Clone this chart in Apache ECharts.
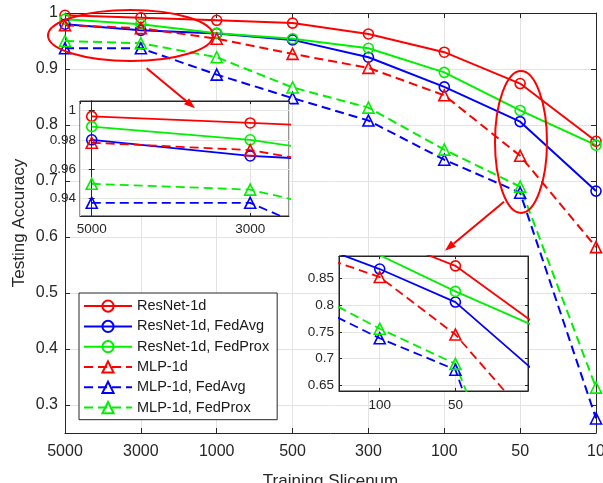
<!DOCTYPE html>
<html>
<head>
<meta charset="utf-8">
<script src="https://cdn.jsdelivr.net/npm/echarts@6/dist/echarts.min.js"></script>
<style>
  html, body { margin: 0; padding: 0; background: #fff; }
  #chart { width: 603px; height: 483px; }
</style>
</head>
<body>
<div id="chart"></div>
<script>
// x categories (training slice number)
const slicenum = ['5000', '3000', '1000', '500', '300', '100', '50', '10'];

// testing accuracy per model
const resnet     = [0.996, 0.9915, 0.987, 0.982, 0.9625, 0.930, 0.874, 0.771];
const resnetAvg  = [0.980, 0.969, 0.9635, 0.952, 0.921, 0.868, 0.806, 0.682];
const resnetProx = [0.989, 0.980, 0.964, 0.954, 0.937, 0.894, 0.826, 0.764];
const mlp        = [0.978, 0.973, 0.954, 0.927, 0.902, 0.853, 0.745, 0.582];
const mlpAvg     = [0.937, 0.937, 0.890, 0.848, 0.808, 0.738, 0.679, 0.276];
const mlpProx    = [0.950, 0.946, 0.921, 0.867, 0.831, 0.756, 0.690, 0.331];

const seriesNames = ['ResNet-1d', 'ResNet-1d, FedAvg', 'ResNet-1d, FedProx', 'MLP-1d', 'MLP-1d, FedAvg', 'MLP-1d, FedProx'];
const seriesData = [resnet, resnetAvg, resnetProx, mlp, mlpAvg, mlpProx];
const seriesColors = ['#ff0000', '#0000ff', '#00f000', '#ff0000', '#0000ff', '#00f000'];

const AX = '#262626';
const GRID = '#e3e3e3';
const FONT = 'Liberation Sans, Arial, Helvetica, sans-serif';

const fmtNum = v => String(+(+v).toFixed(3));

function makeSeries(idx, gridIdx) {
  const dashed = idx >= 3;
  const c = seriesColors[idx];
  const inset = gridIdx > 0;
  return {
    name: seriesNames[idx],
    type: 'line',
    xAxisIndex: gridIdx * 2,
    yAxisIndex: gridIdx * 2,
    z: inset ? 12 : 2,
    data: inset ? seriesData[idx].map((v, i) => [i, v]) : seriesData[idx],
    symbol: dashed ? 'triangle' : 'circle',
    symbolSize: dashed ? 11 : 10,
    showAllSymbol: true,
    clip: true,
    animation: false,
    lineStyle: { color: c, width: inset ? 1.8 : 2, type: dashed ? [9, 5] : 'solid' },
    itemStyle: { color: 'none', borderColor: c, borderWidth: 1.6 },
    emphasis: { disabled: true }
  };
}

function sideAxis(base, extra) {
  return Object.assign({
    axisLine: { show: true, lineStyle: { color: AX, width: 1 } },
    axisTick: { show: true, inside: true, length: 4, lineStyle: { color: AX } },
    axisLabel: { show: false },
    splitLine: { show: false }
  }, base, extra);
}

function arrow(x1, y1, x2, y2) {
  const ang = Math.atan2(y2 - y1, x2 - x1);
  const len = 11, half = 4;
  const bx = x2 - len * Math.cos(ang), by = y2 - len * Math.sin(ang);
  const px = -Math.sin(ang) * half, py = Math.cos(ang) * half;
  return [
    { type: 'line', z: 30, shape: { x1, y1, x2: bx, y2: by }, style: { stroke: '#ff0000', lineWidth: 2 } },
    { type: 'polygon', z: 30, shape: { points: [[x2, y2], [bx + px, by + py], [bx - px, by - py]] }, style: { fill: '#ff0000' } }
  ];
}

const series = [];
[0, 1, 2].forEach(g => seriesNames.forEach((n, i) => series.push(makeSeries(i, g))));

const labelStyle = { color: AX, fontFamily: FONT };

const option = {
  backgroundColor: '#fff',
  animation: false,
  textStyle: { fontFamily: FONT },
  grid: [
    { left: 65, top: 13, right: 7, bottom: 50, show: false, containLabel: false, outerBoundsMode: 'none' },
    { left: 80, top: 101, width: 209, height: 115, show: true, backgroundColor: '#fff', borderColor: AX, borderWidth: 1, z: 10, containLabel: false, outerBoundsMode: 'none' },
    { left: 339, top: 256, width: 189, height: 135, show: true, backgroundColor: '#fff', borderColor: AX, borderWidth: 1, z: 10, containLabel: false, outerBoundsMode: 'none' }
  ],
  xAxis: [
    {
      type: 'category', gridIndex: 0, data: slicenum, boundaryGap: false,
      name: 'Training Slicenum', nameLocation: 'middle', nameGap: 40, nameMoveOverlap: false,
      nameTextStyle: Object.assign({ fontSize: 17 }, labelStyle),
      axisLine: { lineStyle: { color: AX, width: 1 } },
      axisTick: { inside: true, length: 5, alignWithLabel: true, lineStyle: { color: AX } },
      axisLabel: Object.assign({ fontSize: 16, margin: 11, interval: 0 }, labelStyle),
      splitLine: { show: true, lineStyle: { color: GRID, width: 1 } }
    },
    sideAxis({ type: 'category', gridIndex: 0, data: slicenum, boundaryGap: false, position: 'top' },
      { axisTick: { show: true, inside: true, length: 5, lineStyle: { color: AX } } }),
    {
      type: 'value', gridIndex: 1, min: -0.074, max: 1.245, minInterval: 1, splitNumber: 2, z: 11,
      axisLine: { lineStyle: { color: AX, width: 1 } },
      axisTick: { inside: true, length: 3, lineStyle: { color: AX } },
      axisLabel: Object.assign({ fontSize: 13.5, margin: 6, showMinLabel: false, showMaxLabel: false,
        formatter: v => Number.isInteger(v) ? slicenum[v] : '' }, labelStyle),
      splitLine: { show: true, lineStyle: { color: GRID, width: 1 } }
    },
    sideAxis({ type: 'value', gridIndex: 1, min: -0.074, max: 1.245, minInterval: 1, splitNumber: 2, position: 'top', z: 11 },
      { axisTick: { show: true, inside: true, length: 3, lineStyle: { color: AX } } }),
    {
      type: 'value', gridIndex: 2, min: 4.462, max: 6.959, minInterval: 1, splitNumber: 2, z: 11,
      axisLine: { lineStyle: { color: AX, width: 1 } },
      axisTick: { inside: true, length: 3, lineStyle: { color: AX } },
      axisLabel: Object.assign({ fontSize: 13.5, margin: 7, showMinLabel: false, showMaxLabel: false,
        formatter: v => Number.isInteger(v) ? slicenum[v] : '' }, labelStyle),
      splitLine: { show: true, lineStyle: { color: GRID, width: 1 } }
    },
    sideAxis({ type: 'value', gridIndex: 2, min: 4.462, max: 6.959, minInterval: 1, splitNumber: 2, position: 'top', z: 11 },
      { axisTick: { show: true, inside: true, length: 3, lineStyle: { color: AX } } })
  ],
  yAxis: [
    {
      type: 'value', gridIndex: 0, min: 0.25, max: 1, splitNumber: 7,
      name: 'Testing Accuracy', nameLocation: 'middle', nameGap: 37, nameMoveOverlap: false,
      nameTextStyle: Object.assign({ fontSize: 17 }, labelStyle),
      axisLine: { show: true, lineStyle: { color: AX, width: 1 } },
      axisTick: { show: true, inside: true, length: 5, lineStyle: { color: AX } },
      axisLabel: Object.assign({ fontSize: 16, margin: 7, showMinLabel: false, formatter: fmtNum }, labelStyle),
      splitLine: { show: true, lineStyle: { color: GRID, width: 1 } }
    },
    sideAxis({ type: 'value', gridIndex: 0, min: 0.25, max: 1, splitNumber: 7, position: 'right' },
      { axisTick: { show: true, inside: true, length: 5, lineStyle: { color: AX } } }),
    {
      type: 'value', gridIndex: 1, min: 0.928, max: 1.0065, splitNumber: 4, z: 11,
      axisLine: { show: true, lineStyle: { color: AX, width: 1 } },
      axisTick: { show: true, inside: true, length: 3, lineStyle: { color: AX } },
      axisLabel: Object.assign({ fontSize: 13.5, margin: 4, showMinLabel: false, showMaxLabel: false, formatter: fmtNum }, labelStyle),
      splitLine: { show: true, lineStyle: { color: GRID, width: 1 } }
    },
    sideAxis({ type: 'value', gridIndex: 1, min: 0.928, max: 1.0065, splitNumber: 4, position: 'right', z: 11 },
      { axisTick: { show: true, inside: true, length: 3, lineStyle: { color: AX } } }),
    {
      type: 'value', gridIndex: 2, min: 0.639, max: 0.8925, splitNumber: 5, z: 11,
      axisLine: { show: true, lineStyle: { color: AX, width: 1 } },
      axisTick: { show: true, inside: true, length: 3, lineStyle: { color: AX } },
      axisLabel: Object.assign({ fontSize: 13.5, margin: 5, showMinLabel: false, showMaxLabel: false, formatter: fmtNum }, labelStyle),
      splitLine: { show: true, lineStyle: { color: GRID, width: 1 } }
    },
    sideAxis({ type: 'value', gridIndex: 2, min: 0.639, max: 0.8925, splitNumber: 5, position: 'right', z: 11 },
      { axisTick: { show: true, inside: true, length: 3, lineStyle: { color: AX } } })
  ],
  legend: {
    data: seriesNames,
    orient: 'vertical',
    left: 79, top: 293,
    z: 20,
    backgroundColor: '#fff',
    borderColor: AX, borderWidth: 1, borderRadius: 0,
    padding: [5, 8, 4, 4],
    itemGap: 4.1,
    itemWidth: 48,
    itemHeight: 14,
    selectedMode: false,
    textStyle: { fontSize: 14.5, color: '#1a1a1a', fontFamily: FONT, lineHeight: 14 }
  },
  series: series,
  graphic: [
    { type: 'ellipse', z: 30, shape: { cx: 130.5, cy: 35.5, rx: 82.5, ry: 25.5 }, style: { fill: 'none', stroke: '#ff0000', lineWidth: 2 } },
    { type: 'ellipse', z: 30, shape: { cx: 521, cy: 142, rx: 26, ry: 71 }, style: { fill: 'none', stroke: '#ff0000', lineWidth: 2 } }
  ].concat(arrow(146.7, 68.3, 195, 108.3), arrow(504, 201.7, 445, 250.7))
};

echarts.init(document.getElementById('chart'), null, { renderer: 'canvas' }).setOption(option);
</script>
</body>
</html>
